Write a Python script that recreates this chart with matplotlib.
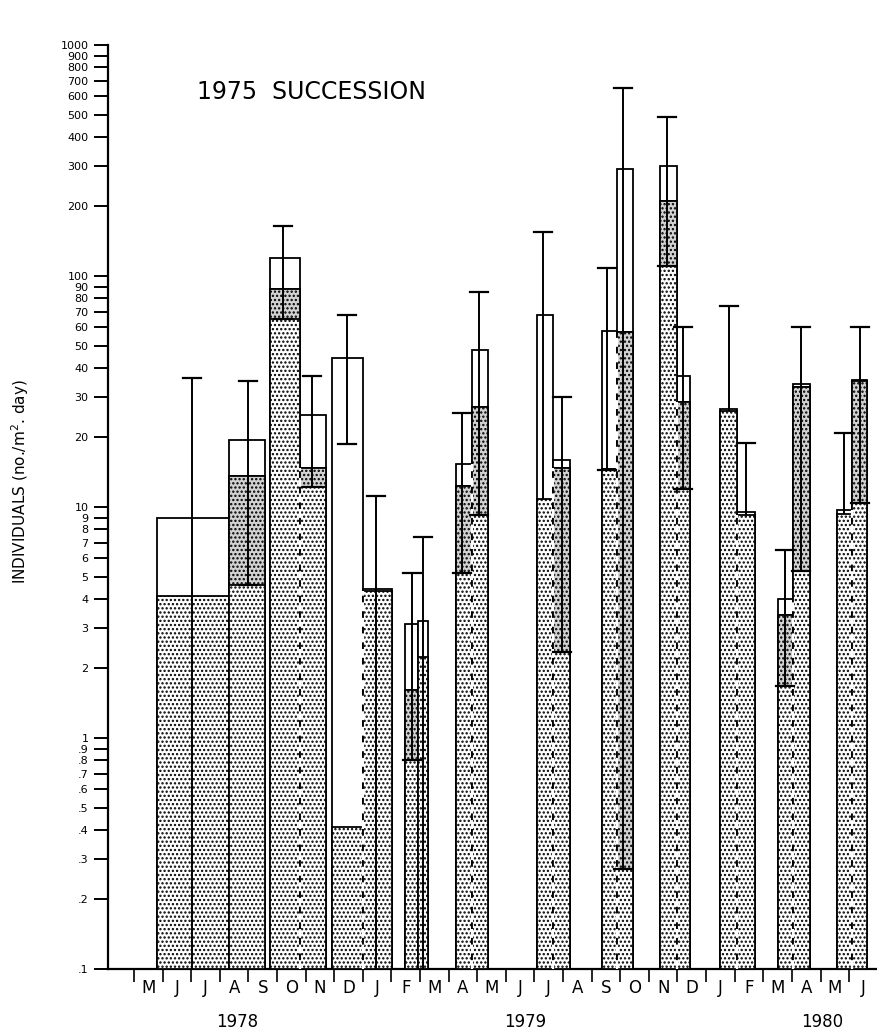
import matplotlib
matplotlib.use('Agg')
import matplotlib.pyplot as plt
import matplotlib.transforms as mtransforms
import numpy as np

plt.rcParams['font.family'] = ['DejaVu Sans']
plt.rcParams['hatch.linewidth'] = 1.1
plt.rcParams['hatch.color'] = 'black'

# ---------------- data (x in months from start of May 1978) ----------------
bar_left  = [0.80, 3.32, 4.76, 5.80, 6.92, 8.01, 9.48, 9.93, 11.26, 11.82,
             14.09, 14.65, 16.36, 16.89, 18.39, 18.99, 20.49, 21.08, 22.52, 23.04, 24.58, 25.10]
bar_right = [3.32, 4.58, 5.80, 6.71, 8.01, 9.02, 9.93, 10.28, 11.82, 12.38,
             14.65, 15.24, 16.89, 17.45, 18.99, 19.44, 21.08, 21.71, 23.04, 23.64, 25.10, 25.63]
total     = [9.0, 19.5, 120, 25, 44, 4.4, 3.1, 3.2, 15.3, 48,
             68, 16, 58, 290, 300, 37, 26.5, 9.5, 4.0, 34, 9.7, 35.5]
stippled  = [4.1, 13.6, 88, 14.8, 0.41, 4.35, 1.62, 2.25, 12.3, 27,
             10.8, 14.8, 14.6, 57, 212, 28.5, 26, 9.2, 3.4, 33, 9.3, 35]
err_x     = [2.03, 3.99, 5.21, 6.22, 7.45, 8.46, 9.72, 10.10, 11.47, 12.06,
             14.30, 14.97, 16.54, 17.10, 18.64, 19.20, 20.80, 21.40, 22.77, 23.32, 24.83, 25.37]
err_high  = [36, 35, 165, 37, 68, 11.2, 5.2, 7.4, 25.5, 85,
             155, 30, 108, 650, 490, 60, 74, 19, 6.5, 60, 21, 60]
err_low   = [0.05, 4.6, 65, 12.2, 18.7, 0.05, 0.8, 0.05, 5.2, 9.2,
             np.nan, 2.35, 14.5, 0.27, 111, 12, np.nan, np.nan, 1.68, 5.3, np.nan, 10.4]
dashed_edges = [3, 5, 9, 11, 13, 15, 17, 19, 21]

months = ['M', 'J', 'J', 'A', 'S', 'O', 'N', 'D', 'J', 'F', 'M', 'A', 'M',
          'J', 'J', 'A', 'S', 'O', 'N', 'D', 'J', 'F', 'M', 'A', 'M', 'J']
years = ['1978', '1979', '1980']
year_x = [3.6, 13.67, 24.06]

y_ticks = [0.1, 0.2, 0.3, 0.4, 0.5, 0.6, 0.7, 0.8, 0.9,
           1, 2, 3, 4, 5, 6, 7, 8, 9,
           10, 20, 30, 40, 50, 60, 70, 80, 90,
           100, 200, 300, 400, 500, 600, 700, 800, 900, 1000]
y_tick_labels = ['.1', '.2', '.3', '.4', '.5', '.6', '.7', '.8', '.9',
                 '1', '2', '3', '4', '5', '6', '7', '8', '9',
                 '10', '20', '30', '40', '50', '60', '70', '80', '90',
                 '100', '200', '300', '400', '500', '600', '700', '800', '900', '1000']

title = '1975  SUCCESSION'
ylabel = 'INDIVIDUALS (no./m$^{2}$. day)'

# ---------------- figure ----------------
W, H = 878, 1035
fig = plt.figure(figsize=(W / 100, H / 100), dpi=100)
ax_left, ax_right, ax_bottom, ax_top = 108, 878, 969, 45
ax = fig.add_axes([ax_left / W, 1 - ax_bottom / H, (ax_right - ax_left) / W, (ax_bottom - ax_top) / H])
ax.set_yscale('log')
ax.set_ylim(0.1, 1000)
ax.set_xlim(-0.909, 26.01)

base = 0.1
lw = 1.3
for i in range(len(total)):
    l, r = bar_left[i], bar_right[i]
    w = r - l
    # white total bar
    ax.bar(l, total[i] - base, bottom=base, width=w, align='edge',
           facecolor='white', edgecolor='black', linewidth=lw, zorder=2)
    # stippled part
    ax.bar(l, stippled[i] - base, bottom=base, width=w, align='edge',
           facecolor='white', edgecolor='black', hatch='....', linewidth=lw, zorder=3)
    lo = err_low[i]
    if not np.isnan(lo) and base < lo < stippled[i]:
        ax.bar(l, stippled[i] - lo, bottom=lo, width=w, align='edge',
               facecolor='#d2d2d2', edgecolor='black', hatch='....', linewidth=lw, zorder=3)

# dashed white edges between adjoining bars
for j in dashed_edges:
    top = min(total[j - 1], stippled[j])
    ax.plot([bar_left[j], bar_left[j]], [base, top], color='white',
            linewidth=1.6, linestyle=(0, (4, 3)), zorder=4)

# error bars
cap = 0.32
for i in range(len(total)):
    x = err_x[i]
    hi = err_high[i]
    lo = err_low[i]
    end = stippled[i] if np.isnan(lo) else lo
    ax.plot([x, x], [max(end, 0.05), hi], color='black', linewidth=1.4, zorder=5,
            solid_capstyle='butt')
    ax.plot([x - cap, x + cap], [hi, hi], color='black', linewidth=1.6, zorder=5)
    if not np.isnan(lo) and lo > base:
        ax.plot([x - cap, x + cap], [lo, lo], color='black', linewidth=1.6, zorder=5)

# axes styling
for s in ['top', 'right']:
    ax.spines[s].set_visible(False)
ax.spines['left'].set_linewidth(1.6)
ax.spines['bottom'].set_linewidth(1.6)

ax.set_yticks(y_ticks)
ax.set_yticklabels(y_tick_labels, fontsize=8)
ax.yaxis.set_minor_locator(matplotlib.ticker.NullLocator())
ax.tick_params(axis='y', which='major', direction='out', length=10, width=1.4, pad=4)

ax.set_xticks(np.arange(0, len(months)))
ax.set_xticklabels([])
ax.set_xticks(np.arange(len(months)) + 0.5, minor=True)
ax.set_xticklabels(months, minor=True, fontsize=12)
ax.tick_params(axis='x', which='major', direction='out', length=9, width=1.2)
ax.tick_params(axis='x', which='minor', length=0, pad=7)

# text
fig.text(312 / W, 1 - 92 / H, title, ha='center', va='center', fontsize=17)
fig.text(20 / W, 1 - 482 / H, ylabel, rotation=90, ha='center', va='center', fontsize=11)
trans = mtransforms.blended_transform_factory(ax.transData, fig.transFigure)
for yx, yl in zip(year_x, years):
    ax.text(yx, 1 - 1022 / H, yl, transform=trans, ha='center', va='center', fontsize=12)

fig.savefig('out.png', dpi=100)
